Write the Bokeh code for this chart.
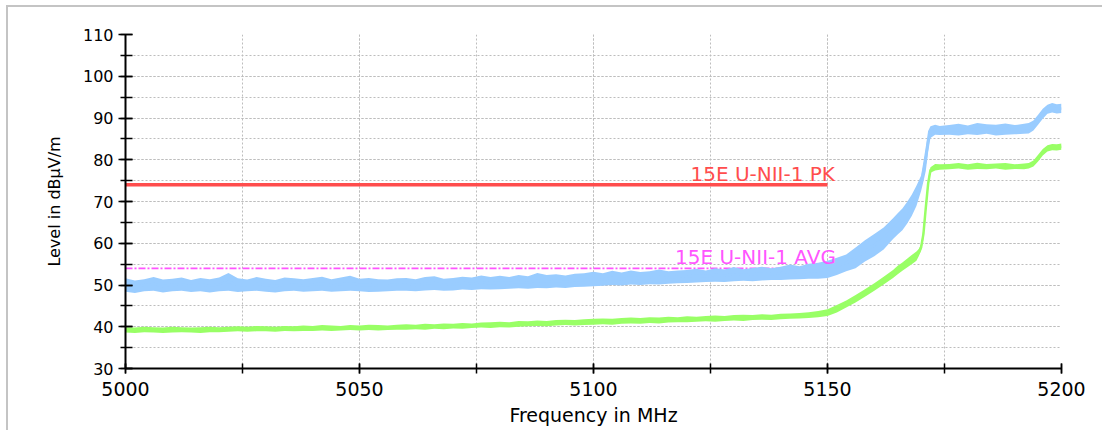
from bokeh.plotting import figure
from bokeh.models import ColumnDataSource, Range1d, SingleIntervalTicker, InlineStyleSheet
from bokeh.core.properties import value
from bokeh.embed import file_html
from bokeh.resources import INLINE

# ---------------- data ----------------
freq = [
    5000, 5002, 5004, 5006, 5008, 5010, 5012, 5014, 5016, 5018,
    5020, 5022, 5024, 5026, 5028, 5030, 5032, 5034, 5036, 5038,
    5040, 5042, 5044, 5046, 5048, 5050, 5052, 5054, 5056, 5058,
    5060, 5062, 5064, 5066, 5068, 5070, 5072, 5074, 5076, 5078,
    5080, 5082, 5084, 5086, 5088, 5090, 5092, 5094, 5096, 5098,
    5100, 5102, 5104, 5106, 5108, 5110, 5112, 5114, 5116, 5118,
    5120, 5122, 5124, 5126, 5128, 5130, 5132, 5134, 5136, 5138,
    5140, 5142, 5144, 5146, 5148,
    5150, 5152, 5154, 5156, 5158, 5160, 5162, 5164, 5165, 5166, 5167, 5168, 5169,
    5169.5, 5170, 5170.5, 5171, 5171.5, 5172, 5173, 5174,
    5176, 5178, 5180, 5182, 5184, 5186, 5188, 5190, 5192, 5193, 5194, 5195, 5196,
    5197, 5198, 5199, 5200,
]

peak_hi = [
    51.6, 51.1, 51.4, 51.9, 51.3, 51.5, 51.8, 51.2, 51.7, 51.4,
    51.8, 52.9, 51.6, 51.3, 51.9, 51.5, 51.2, 51.8, 51.6, 51.4,
    51.7, 52.0, 51.4, 51.8, 52.2, 51.5, 51.7, 51.4, 51.3, 51.6,
    51.7, 51.4, 51.9, 52.1, 51.5, 51.7, 52.0, 51.8, 52.3, 51.9,
    52.2, 51.9, 52.4, 52.1, 52.9, 52.4, 52.6, 52.3, 52.7, 52.8,
    53.2, 52.8, 53.4, 53.0, 53.5, 53.1, 53.3, 53.7, 53.3, 53.5,
    53.6, 53.9, 53.5, 54.0, 53.7, 54.3, 53.8, 54.1, 54.4, 54.0,
    54.4, 54.9, 54.5, 55.1, 55.3,
    55.8, 56.5, 57.3, 59.0, 60.7, 62.2, 63.8, 66.0, 67.2, 68.3, 69.9, 71.6, 73.8,
    75.0, 76.2, 79.6, 83.1, 86.9, 88.0, 88.4, 88.1,
    88.3, 88.6, 88.2, 88.8, 88.5, 88.4, 88.7, 88.3, 88.6, 88.8, 89.4, 90.8, 92.2,
    93.2, 93.6, 93.3, 93.4,
]
peak_lo = [
    48.4, 48.1, 48.5, 48.6, 48.2, 48.5, 48.6, 48.3, 48.5, 48.2,
    48.5, 48.6, 48.3, 48.5, 48.6, 48.4, 48.2, 48.5, 48.6, 48.4,
    48.5, 48.6, 48.4, 48.5, 48.6, 48.5, 48.3, 48.4, 48.5, 48.6,
    48.6, 48.5, 48.7, 48.8, 48.6, 48.7, 48.9, 48.8, 49.0, 48.9,
    49.0, 49.1, 49.2, 49.1, 49.3, 49.2, 49.4, 49.3, 49.5, 49.6,
    49.7, 49.8, 50.0, 49.9, 50.1, 50.0, 50.2, 50.1, 50.3, 50.4,
    50.5, 50.6, 50.7, 50.8, 50.7, 50.9, 51.0, 50.9, 51.1, 51.2,
    51.2, 51.3, 51.4, 51.5, 51.5,
    51.7, 52.4, 53.3, 54.0, 55.6, 56.9, 58.5, 61.0, 62.1, 63.1, 64.7, 66.5, 68.9,
    70.7, 72.5, 74.8, 77.3, 81.8, 85.2, 86.0, 85.9,
    86.0, 85.8, 86.1, 85.9, 86.2, 85.8, 86.0, 86.1, 86.2, 86.3, 87.0, 88.4, 89.8,
    91.0, 91.3, 91.1, 91.2,
]

avg_hi = [
    39.9, 39.8, 40.0, 39.9, 39.8, 40.0, 39.9, 39.8, 39.9, 40.0,
    39.9, 40.0, 40.1, 40.0, 40.2, 40.1, 40.0, 40.2, 40.1, 40.3,
    40.2, 40.4, 40.3, 40.2, 40.4, 40.3, 40.5, 40.4, 40.3, 40.5,
    40.6, 40.5, 40.7, 40.6, 40.8, 40.7, 40.9, 40.8, 41.0, 41.1,
    41.2, 41.1, 41.4, 41.3, 41.5, 41.4, 41.6, 41.7, 41.6, 41.8,
    41.9, 42.0, 41.9, 42.1, 42.2, 42.1, 42.3, 42.2, 42.4, 42.3,
    42.5, 42.4, 42.6, 42.7, 42.6, 42.8, 42.9, 42.8, 43.0, 42.9,
    43.1, 43.2, 43.3, 43.5, 43.8,
    44.2, 45.2, 46.3, 47.6, 49.0, 50.4, 52.0, 53.6, 54.6, 55.4, 56.3, 57.2, 58.0,
    58.6, 59.8, 63.5, 70.0, 75.5, 78.2, 79.0, 78.9,
    79.0, 79.2, 78.9, 79.3, 79.0, 79.1, 79.2, 78.9, 79.1, 79.2, 79.8, 81.2, 82.6,
    83.5, 83.8, 83.7, 83.9,
]
avg_lo = [
    38.6, 38.5, 38.7, 38.6, 38.5, 38.6, 38.7, 38.6, 38.5, 38.7,
    38.7, 38.8, 38.9, 38.8, 38.9, 38.9, 38.8, 39.0, 38.9, 39.0,
    39.0, 39.1, 39.0, 39.1, 39.2, 39.1, 39.2, 39.1, 39.2, 39.3,
    39.3, 39.4, 39.3, 39.5, 39.4, 39.6, 39.5, 39.7, 39.8, 39.7,
    39.9, 39.8, 40.0, 40.1, 40.2, 40.1, 40.3, 40.4, 40.3, 40.4,
    40.5, 40.6, 40.5, 40.7, 40.8, 40.7, 40.9, 40.8, 41.0, 41.1,
    41.1, 41.2, 41.3, 41.2, 41.4, 41.5, 41.4, 41.6, 41.7, 41.6,
    41.8, 41.9, 42.0, 42.1, 42.3,
    42.6, 43.4, 44.6, 45.8, 47.2, 48.6, 50.1, 51.7, 52.6, 53.4, 54.2, 55.0, 55.8,
    56.9, 58.2, 61.0, 67.0, 73.0, 76.9, 77.4, 77.6,
    77.7, 77.9, 77.6, 77.8, 77.7, 77.9, 77.6, 77.8, 77.7, 77.9, 78.4, 79.6, 81.0,
    82.0, 82.3, 82.2, 82.4,
]

limit_names = ["15E U-NII-1 PK", "15E U-NII-1 AVG"]
limit_values = [74.0, 54.0]
limit_start = [5000, 5000]
limit_end = [5150, 5150]

x_label = "Frequency in MHz"
y_label = "Level in dB\u00b5V/m"

# ---------------- styles ----------------
FONT = "DejaVu Sans"
BLUE = "#99ccff"
GREEN = "#99ff66"
RED = "#ff4d4d"
MAGENTA = "#ff55ff"
GRID = "#bdbdbd"

src = ColumnDataSource(dict(
    f=freq,
    pk_hi=peak_hi, pk_lo=peak_lo,
    pk_mid=[(a + b) / 2 for a, b in zip(peak_hi, peak_lo)],
    av_hi=avg_hi, av_lo=avg_lo,
    av_mid=[(a + b) / 2 for a, b in zip(avg_hi, avg_lo)],
))

p = figure(width=1102, height=430, output_backend="svg", toolbar_location=None,
           x_range=Range1d(5000, 5200), y_range=Range1d(30, 110),
           min_border_left=125, min_border_right=41, min_border_top=34,
           min_border_bottom=62)
p.stylesheets = [InlineStyleSheet(css=(
    ":host { position: relative; }"
    ":host::after { content: ''; position: absolute; left: 6px; top: 5px; right: 0; bottom: 0;"
    " border-left: 2px solid #c4c4c4; border-top: 2px solid #c4c4c4;"
    " pointer-events: none; z-index: 10; }"
))]
p.outline_line_color = None
p.background_fill_color = "white"
p.border_fill_color = "white"

# grid
p.xaxis.ticker = SingleIntervalTicker(interval=50, num_minor_ticks=2)
p.yaxis.ticker = SingleIntervalTicker(interval=10, num_minor_ticks=2)
for g in (p.xgrid, p.ygrid):
    g.grid_line_color = GRID
    g.grid_line_dash = "2 2"
    g.grid_line_width = 1
    g.minor_grid_line_color = GRID
    g.minor_grid_line_dash = "2 2"
    g.minor_grid_line_width = 1

# limit lines
p.line(x=[limit_start[0], limit_end[0]], y=[limit_values[0]] * 2,
       line_color=RED, line_width=3.5)
p.line(x=[limit_start[1], limit_end[1]], y=[limit_values[1]] * 2,
       line_color=MAGENTA, line_width=1.8, line_dash="7 2 2 2")

# traces
p.varea(x="f", y1="av_lo", y2="av_hi", source=src, fill_color=GREEN)
p.line(x="f", y="av_mid", source=src, line_color=GREEN, line_width=2.5)
p.varea(x="f", y1="pk_lo", y2="pk_hi", source=src, fill_color=BLUE)
p.line(x="f", y="pk_mid", source=src, line_color=BLUE, line_width=2.5)

# limit labels (placed just above the end of each limit line)
lab_src = ColumnDataSource(dict(
    x=[limit_end[0] + 1.6, limit_end[1] + 1.8],
    y=[limit_values[0] + 2.6, limit_values[1] + 2.7],
    t=limit_names,
    c=[RED, MAGENTA],
))
p.text(x="x", y="y", text="t", text_color="c", source=lab_src,
       text_align="right", text_baseline="middle",
       text_font=value(FONT), text_font_size="20px")

# axes
for ax in (p.xaxis, p.yaxis):
    ax.axis_line_color = "black"
    ax.axis_line_width = 2
    ax.major_tick_line_color = "black"
    ax.minor_tick_line_color = "black"
    ax.major_tick_line_width = 1.5
    ax.minor_tick_line_width = 1.5
    ax.major_label_text_font = FONT
    ax.major_label_text_color = "black"
    ax.axis_label_text_font = FONT
    ax.axis_label_text_font_style = "normal"
    ax.axis_label_text_color = "black"

p.xaxis.axis_label = x_label
p.xaxis.axis_label_text_font_size = "19px"
p.xaxis.major_label_text_font_size = "19px"
p.xaxis.major_tick_in = 5
p.xaxis.major_tick_out = 5
p.xaxis.minor_tick_in = 5
p.xaxis.minor_tick_out = 5
p.xaxis.major_label_standoff = 8
p.xaxis.axis_label_standoff = 5

p.yaxis.axis_label = y_label
p.yaxis.axis_label_text_font_size = "16px"
p.yaxis.major_label_text_font_size = "16px"
p.yaxis.major_tick_in = 7
p.yaxis.major_tick_out = 7
p.yaxis.minor_tick_in = 7
p.yaxis.minor_tick_out = 5
p.yaxis.major_label_standoff = 5
p.yaxis.axis_label_standoff = 16

open("out.html", "w").write(file_html(p, INLINE))
